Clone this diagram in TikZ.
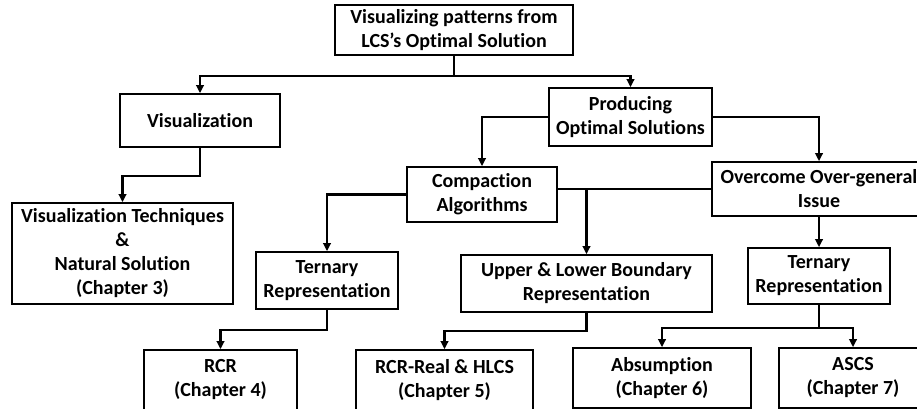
\documentclass[tikz,border=0pt]{standalone}
\usepackage{fontspec}
\setmainfont{Carlito}[Ligatures=CommonOff]
\usepackage{tikz}
\usetikzlibrary{arrows.meta}

\tikzset{
  box/.style={draw, line width=1.7pt, inner sep=0pt, align=center,
    font=\fontsize{20}{24}\selectfont\bfseries},
  link/.style={line width=2.6pt},
  arr/.style={link, -{Triangle[length=8pt,width=7.5pt]}}
}

\begin{document}
\begin{tikzpicture}[x=1pt, y=-1pt]
  \path[use as bounding box] (0,0) rectangle (917,408);
  \clip (0,0) rectangle (917,408);
  % boxes
  \node[box, minimum width=238, minimum height=50] (top) at (454,30) {Visualizing patterns from\\LCS’s Optimal Solution};
  \node[box, minimum width=160, minimum height=53] (vis) at (200,120.5) {Visualization};
  \node[box, minimum width=163, minimum height=58] (prod) at (630.5,117) {Producing\\Optimal Solutions};
  \node[box, minimum width=150, minimum height=55] (comp) at (482,194.5) {Compaction\\Algorithms};
  \node[box, minimum width=214, minimum height=54] (over) at (819,189) {Overcome Over-general\\Issue};
  \node[box, minimum width=221, minimum height=101] (vistech) at (122.5,253.5) {Visualization Techniques\\\&\\Natural Solution\\(Chapter 3)};
  \node[box, minimum width=142, minimum height=57] (tern1) at (327,280.5) {Ternary\\Representation};
  \node[box, minimum width=251, minimum height=57] (upper) at (586.5,283.5) {Upper \& Lower Boundary\\Representation};
  \node[box, minimum width=142, minimum height=56] (tern2) at (819,276) {Ternary\\Representation};
  \node[box, minimum width=153, minimum height=60] (rcr) at (220.5,380) {RCR\\(Chapter 4)};
  \node[box, minimum width=177, minimum height=60] (rcrreal) at (444.5,380) {RCR-Real \& HLCS\\(Chapter 5)};
  \node[box, minimum width=178, minimum height=60] (absum) at (662,378) {Absumption\\(Chapter 6)};
  \node[box, minimum width=148, minimum height=60] (ascs) at (853,378) {ASCS\\(Chapter 7)};

  % connectors
  \draw[link] (top.south) -- ++(0,20) coordinate (topsplit);
  \draw[arr] (topsplit) -| (vis.north);
  \draw[arr] (topsplit) -| (prod.north);
  \draw[arr] (prod.west) -| (comp.north);
  \draw[arr] (prod.east) -| (over.north);
  \draw[arr] (vis.south) -- ++(0,28) -| (vistech.north);
  \draw[arr] (comp.west) -| (tern1.north);
  \draw[link] (comp.east |- over.west) -- (over.west);
  \draw[arr] (upper.north |- over.west) -- (upper.north);
  \draw[arr] (over.south) -- (tern2.north);
  \draw[arr] (tern1.south) -- ++(0,20) -| (rcr.north);
  \draw[arr] (upper.south) -- ++(0,18) -| (rcrreal.north);
  \draw[link] (tern2.south) -- ++(0,23) coordinate (ternsplit);
  \draw[arr] (ternsplit) -| (absum.north);
  \draw[arr] (ternsplit) -| (ascs.north);
\end{tikzpicture}
\end{document}
